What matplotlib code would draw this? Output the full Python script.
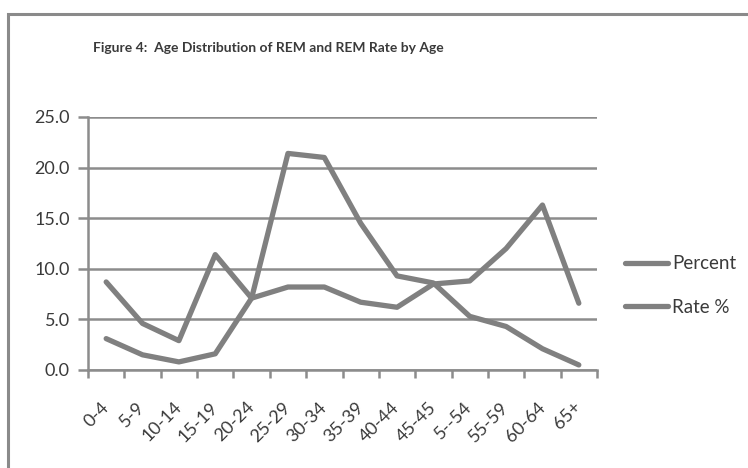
import matplotlib.pyplot as plt
from matplotlib.patches import Rectangle

plt.rc('font', family=['Lato', 'DejaVu Sans'])

age_groups = ['0-4', '5-9', '10-14', '15-19', '20-24', '25-29', '30-34',
              '35-39', '40-44', '45-45', '5--54', '55-59', '60-64', '65+']
percent = [3.1, 1.5, 0.8, 1.6, 7.1, 21.4, 21.0, 14.5, 9.3, 8.6, 5.3, 4.3, 2.1, 0.5]
rate = [8.7, 4.6, 2.9, 11.4, 7.1, 8.2, 8.2, 6.7, 6.2, 8.5, 8.8, 12.0, 16.3, 6.6]

line_grey = '#808080'
grid_grey = '#8c8c8c'
text_grey = '#3a3a3a'

fig = plt.figure(figsize=(7.48, 4.68), dpi=100)
fig.patch.set_facecolor('white')

# chart frame (runs off the right and bottom edges)
fig.patches.append(Rectangle((8 / 748, -0.05), 1.0, 1 - 14 / 468 + 0.05,
                             transform=fig.transFigure, fill=False,
                             edgecolor='#8a8a8a', linewidth=2.2))

ax = fig.add_axes([88 / 748, 1 - 370 / 468, (597 - 88) / 748, (370 - 117) / 468])

x = range(len(age_groups))
ax.plot(x, percent, color=line_grey, linewidth=3.8, label='Percent',
        solid_joinstyle='round', solid_capstyle='round', zorder=3)
ax.plot(x, rate, color=line_grey, linewidth=3.8, label='Rate %',
        solid_joinstyle='round', solid_capstyle='round', zorder=3)

ax.set_xlim(-0.5, len(age_groups) - 0.5)
ax.set_ylim(0, 25)
ax.set_yticks([0, 5, 10, 15, 20, 25])
ax.set_yticklabels(['%.1f' % v for v in [0, 5, 10, 15, 20, 25]],
                   fontsize=13, color=text_grey)
ax.grid(axis='y', color=grid_grey, linewidth=1.8)
ax.set_axisbelow(True)

# category boundaries get the tick marks, centres get the labels
ax.set_xticks([i - 0.5 for i in range(len(age_groups) + 1)])
ax.set_xticklabels([])
ax.set_xticks(list(x), minor=True)
ax.set_xticklabels(age_groups, minor=True, rotation=45, ha='right', va='center',
                   rotation_mode='anchor', fontsize=13, color=text_grey)
ax.tick_params(axis='x', which='major', length=6, width=1.8, color=grid_grey)
ax.tick_params(axis='x', which='minor', length=0, pad=25)
ax.tick_params(axis='y', length=7, width=1.8, color=grid_grey, pad=6)

for side in ['top', 'right']:
    ax.spines[side].set_visible(False)
for side in ['left', 'bottom']:
    ax.spines[side].set_color(grid_grey)
    ax.spines[side].set_linewidth(1.8)

fig.text(268 / 748, 1 - 48 / 468, 'Figure 4:  Age Distribution of REM and REM Rate by Age',
         ha='center', va='center', fontsize=10, fontweight='bold', color=text_grey)

fig.legend(loc='center left', bbox_to_anchor=(625 / 748, 1 - 285.5 / 468),
           frameon=False, fontsize=13.5, handlelength=2.3, handletextpad=0.2,
           labelspacing=1.4, borderpad=0, borderaxespad=0, labelcolor=text_grey)

fig.savefig('out.png', dpi=100)
